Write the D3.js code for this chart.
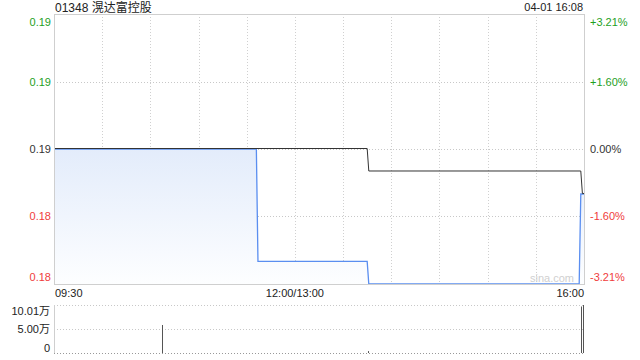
<!DOCTYPE html>
<html>
<head>
<meta charset="utf-8">
<script src="https://cdn.jsdelivr.net/npm/d3@7"></script>
<style>
  body { margin: 0; background: #fff; }
  svg { display: block; font-family: "Liberation Sans", Arial, "Noto Sans CJK SC", sans-serif; }
</style>
</head>
<body>
<div id="chart"></div>
<script>
// chart data
const title = "01348 滉达富控股";
const stamp = "04-01 16:08";
const prevClose = 0.187;
const pctTicks = [3.21, 1.60, 0, -1.60, -3.21];
const timeLabels = ["09:30", "12:00/13:00", "16:00"];
const priceTimes = ["09:30", "11:36", "11:37", "13:45", "13:46", "15:57", "15:58", "16:00"];
const priceValues = [0.187, 0.187, 0.182, 0.182, 0.181, 0.181, 0.185, 0.185];
const avgTimes = ["09:30", "13:45", "13:46", "15:58", "15:59", "16:00"];
const avgValues = [0.187, 0.187, 0.186, 0.186, 0.185, 0.185];
const volTimes = ["10:38", "13:46", "15:59", "16:00"];
const volValues = [58400, 4000, 97000, 100100];
const volTicks = [100100, 50050, 0];
const volTickLabels = ["10.01万", "5.00万", "0"];

const width = 640, height = 360;
const pLeft = 54, pRight = 584, pTop = 14, pBottom = 284;
const vTop = 305, vBottom = 353;
const green = "#1ea01e", red = "#f03c3c", dark = "#333";

// minutes from the open, lunch break removed
function minuteOf(t) {
    const [h, m] = t.split(":").map(Number);
    let v = h * 60 + m - (9 * 60 + 30);
    if (h >= 13) v -= 60;
    return v;
}

const svg = d3.select("#chart").append("svg")
    .attr("width", width)
    .attr("height", height);

const x = d3.scaleLinear().domain([0, 330]).range([pLeft, pRight]);
const pctMax = pctTicks[0] / 100;
const y = d3.scaleLinear()
    .domain([prevClose * (1 - pctMax), prevClose * (1 + pctMax)])
    .range([pBottom, pTop]);
const yv = d3.scaleLinear().domain([0, d3.max(volTicks)]).range([vBottom, vTop]);

// gradient for area under price
const grad = svg.append("defs").append("linearGradient")
    .attr("id", "fillGrad")
    .attr("gradientUnits", "userSpaceOnUse")
    .attr("x1", 0).attr("x2", 0)
    .attr("y1", y(prevClose)).attr("y2", pBottom);
grad.append("stop").attr("offset", 0).attr("stop-color", "#e3ecfb");
grad.append("stop").attr("offset", 1).attr("stop-color", "#fdfeff");

// header texts
svg.append("text").attr("x", pLeft + 1).attr("y", 12)
    .attr("font-size", 12).attr("fill", "#222").text(title);
svg.append("text").attr("x", pRight - 1).attr("y", 11)
    .attr("font-size", 11).attr("fill", "#222").attr("text-anchor", "end").text(stamp);

// price grid
const priceGroup = svg.append("g");
pctTicks.forEach((p, i) => {
    const yy = Math.round(y(prevClose * (1 + p / 100))) + 0.5;
    if (i > 0 && i < pctTicks.length - 1) {
        priceGroup.append("line")
            .attr("x1", pLeft).attr("x2", pRight).attr("y1", yy).attr("y2", yy)
            .attr("stroke", "#c8c8c8").attr("stroke-dasharray", "1,2");
    }
    const col = p > 0 ? green : (p < 0 ? red : dark);
    let dy = "0.35em";
    if (i === 0) dy = "1.0em";
    if (i === pctTicks.length - 1) dy = "-0.3em";
    priceGroup.append("text")
        .attr("x", pLeft - 3).attr("y", yy).attr("dy", dy)
        .attr("text-anchor", "end").attr("font-size", 11).attr("fill", col)
        .text((prevClose * (1 + p / 100)).toFixed(2));
    priceGroup.append("text")
        .attr("x", pRight + 6).attr("y", yy).attr("dy", dy)
        .attr("font-size", 11).attr("fill", col)
        .text((p > 0 ? "+" : "") + p.toFixed(2) + "%");
});
d3.range(1, 11).forEach(k => {
    const xx = Math.round(x(k * 30)) + 0.5;
    priceGroup.append("line")
        .attr("x1", xx).attr("x2", xx).attr("y1", pTop).attr("y2", pBottom)
        .attr("stroke", "#d0d0d0").attr("stroke-dasharray", "1,2");
});

// watermark
svg.append("text").attr("x", 574).attr("y", 282)
    .attr("text-anchor", "end").attr("font-size", 11).attr("fill", "#d0d0d0").text("sina.com");

// area + price line
const pricePts = priceTimes.map((t, i) => [minuteOf(t), priceValues[i]]);
const area = d3.area().x(d => x(d[0])).y0(pBottom).y1(d => y(d[1]));
svg.append("path").datum(pricePts).attr("d", area).attr("fill", "url(#fillGrad)");
const line = d3.line().x(d => x(d[0])).y(d => y(d[1]));
svg.append("path").datum(pricePts).attr("d", line)
    .attr("fill", "none").attr("stroke", "#5a8ef0").attr("stroke-width", 1.3);

const avgPts = avgTimes.map((t, i) => [minuteOf(t), avgValues[i]]);
svg.append("path").datum(avgPts).attr("d", line)
    .attr("fill", "none").attr("stroke", "#333").attr("stroke-width", 1)
    .attr("transform", "translate(0,-0.5)");

// price frame
svg.append("rect")
    .attr("x", pLeft + 0.5).attr("y", pTop + 0.5)
    .attr("width", pRight - pLeft).attr("height", pBottom - pTop)
    .attr("fill", "none").attr("stroke", "#cfcfcf");

// time labels
const anchors = ["start", "middle", "end"];
const labelX = [pLeft + 1, x(150), pRight];
timeLabels.forEach((t, i) => {
    svg.append("text").attr("x", labelX[i]).attr("y", 297)
        .attr("text-anchor", anchors[i]).attr("font-size", 11).attr("fill", "#222").text(t);
});

// volume chart
volTicks.forEach((v, i) => {
    const yy = Math.round(yv(v)) + 0.5;
    svg.append("line")
        .attr("x1", pLeft).attr("x2", pRight).attr("y1", yy).attr("y2", yy)
        .attr("stroke", i === volTicks.length - 1 ? "#999" : "#c8c8c8")
        .attr("stroke-dasharray", "1,2");
    let dy = "0.35em";
    if (i === 0) dy = "0.9em";
    if (i === volTicks.length - 1) dy = "-0.1em";
    svg.append("text").attr("x", pLeft - 4).attr("y", yy).attr("dy", dy)
        .attr("text-anchor", "end").attr("font-size", 11).attr("fill", "#222")
        .text(volTickLabels[i]);
});
svg.append("line").attr("x1", pLeft + 0.5).attr("x2", pLeft + 0.5)
    .attr("y1", vTop).attr("y2", vBottom).attr("stroke", "#cfcfcf");

svg.append("g").selectAll("line")
    .data(volTimes.map((t, i) => [minuteOf(t), volValues[i]]))
    .enter().append("line")
    .attr("x1", d => Math.round(x(d[0])) - 0.5)
    .attr("x2", d => Math.round(x(d[0])) - 0.5)
    .attr("y1", vBottom)
    .attr("y2", d => yv(d[1]))
    .attr("stroke", "#555").attr("stroke-width", 1);
</script>
</body>
</html>
